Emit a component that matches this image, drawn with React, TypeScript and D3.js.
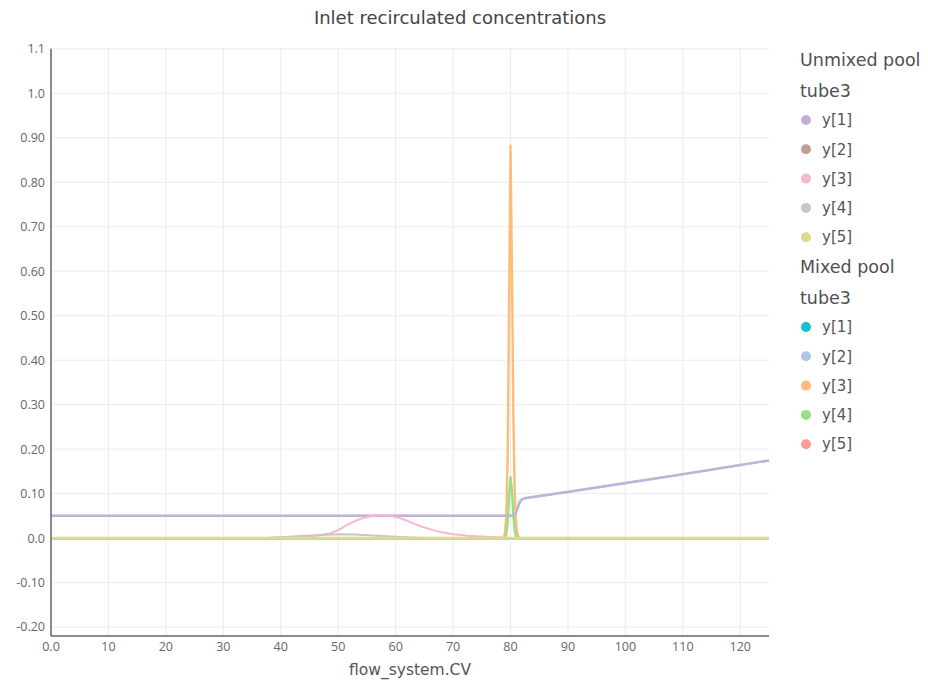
import React from 'react';
import * as d3 from 'd3';

// chart values
const xTicks = [0, 10, 20, 30, 40, 50, 60, 70, 80, 90, 100, 110, 120];
const xTickLabels = ['0.0', '10', '20', '30', '40', '50', '60', '70', '80', '90', '100', '110', '120'];
const yTicks = [1.1, 1.0, 0.9, 0.8, 0.7, 0.6, 0.5, 0.4, 0.3, 0.2, 0.1, 0.0, -0.1, -0.2];
const yTickLabels = ['1.1', '1.0', '0.90', '0.80', '0.70', '0.60', '0.50', '0.40', '0.30', '0.20', '0.10', '0.0', '-0.10', '-0.20'];

const seriesNames = ['y[1]', 'y[2]', 'y[3]', 'y[4]', 'y[5]'];
const unmixedColors = ['#c5b0d5', '#c49c94', '#f7b6d2', '#c7c7c7', '#dbdb8d'];
const mixedColors = ['#17becf', '#aec7e8', '#ffbb78', '#98df8a', '#ff9896'];

type Pt = [number, number];

const zeroLine: Pt[] = [[0, 0], [125, 0]];

const rampLine: Pt[] = [
  [0, 0.0502], [80.5, 0.0502], [80.8, 0.053], [81.1, 0.062], [81.4, 0.074], [81.7, 0.083],
  [82.0, 0.087], [82.4, 0.0895], [85, 0.0945], [90, 0.104], [100, 0.1237], [110, 0.1437],
  [120, 0.1642], [125, 0.1745],
];

const pinkBump: Pt[] = [
  [0, 0], [36, 0], [40, 0.0006], [44, 0.003], [46.5, 0.006], [48.6, 0.0105], [50, 0.018],
  [51.5, 0.029], [53, 0.039], [54.5, 0.046], [56, 0.0505], [57.5, 0.052], [59, 0.0505],
  [60.5, 0.046], [62, 0.039], [63.5, 0.031], [65, 0.024], [66.5, 0.018], [68, 0.013],
  [70, 0.0085], [72.5, 0.0055], [75, 0.0035], [77.5, 0.0018], [79, 0.0008], [80, 0.0003],
  [82, 0], [125, 0],
];

const grayBump: Pt[] = [
  [0, 0], [34, 0], [38, 0.001], [42, 0.0035], [46, 0.0065], [50, 0.0085], [53, 0.008],
  [56, 0.006], [60, 0.003], [64, 0.001], [68, 0], [125, 0],
];

const orangeSpike: Pt[] = [
  [0, 0], [78.5, 0], [78.75, 0.001], [79, 0.008], [79.25, 0.045], [79.5, 0.18], [79.75, 0.52],
  [80, 0.882], [80.25, 0.6], [80.5, 0.27], [80.75, 0.09], [81, 0.025], [81.25, 0.006],
  [81.5, 0.001], [81.75, 0], [125, 0],
];

const greenSpike: Pt[] = [
  [0, 0], [79, 0], [79.25, 0.008], [79.5, 0.035], [79.75, 0.095], [80, 0.137], [80.25, 0.105],
  [80.5, 0.05], [80.75, 0.016], [81, 0.004], [81.25, 0], [125, 0],
];

const unmixedData: Pt[][] = [rampLine, zeroLine, pinkBump, grayBump, zeroLine];
const mixedData: Pt[][] = [zeroLine, rampLine, orangeSpike, greenSpike, zeroLine];

const App = () => {
  const Width = 928;
  const Height = 684;
  const margin = { top: 48.8, right: 159, bottom: 48, left: 51 };
  const chartWidth = Width - margin.left - margin.right;
  const chartHeight = Height - margin.top - margin.bottom;

  const xScale = d3.scaleLinear().domain([0, 125]).range([0, chartWidth]);
  const yScale = d3.scaleLinear().domain([-0.22, 1.1]).range([chartHeight, 0]);

  const line = d3.line<Pt>().x((d) => xScale(d[0])).y((d) => yScale(d[1]));

  const font = "'DejaVu Sans', sans-serif";
  const tickFont = "'Open Sans', sans-serif";

  // mixed first, unmixed on top (olive zero line ends up visible)
  const lines = [
    ...mixedData.map((d, i) => ({ d, color: mixedColors[i], w: i === 1 ? 2.6 : 2.4 })),
    ...unmixedData.map((d, i) => ({ d, color: unmixedColors[i], w: i === 4 ? 2.6 : 2 })),
  ];

  const groups = [
    { title: 'Unmixed pool', colors: unmixedColors },
    { title: 'Mixed pool', colors: mixedColors },
  ];

  return (
    <svg width={Width} height={Height} style={{ position: 'absolute', left: 0, top: 0, background: '#fff' }}>
      <text x={460} y={24} textAnchor="middle" style={{ fontFamily: font, fontSize: '18px', fill: '#444' }}>
        Inlet recirculated concentrations
      </text>
      <g transform={`translate(${margin.left}, ${margin.top})`}>
        {xTicks.map((t) => (
          <line key={'gx' + t} x1={xScale(t)} x2={xScale(t)} y1={0} y2={chartHeight} stroke="#ececec" strokeWidth={1} />
        ))}
        {yTicks.map((t) => (
          <line key={'gy' + t} x1={0} x2={chartWidth} y1={yScale(t)} y2={yScale(t)} stroke="#ececec" strokeWidth={1} />
        ))}
        {lines.map((l, i) => (
          <path key={i} d={line(l.d) || ''} fill="none" stroke={l.color} strokeWidth={l.w} strokeLinejoin="round" />
        ))}
        <line x1={0} x2={0} y1={0} y2={chartHeight} stroke="#666" strokeWidth={1.5} />
        <line x1={0} x2={chartWidth} y1={chartHeight} y2={chartHeight} stroke="#666" strokeWidth={1.5} />
        {yTicks.map((t, i) => (
          <text key={'ty' + t} x={-6} y={yScale(t)} dy="0.35em" textAnchor="end" style={{ fontFamily: tickFont, fontSize: '12.5px', fill: '#666' }}>
            {yTickLabels[i]}
          </text>
        ))}
        {xTicks.map((t, i) => (
          <text key={'tx' + t} x={xScale(t)} y={chartHeight + 15} textAnchor="middle" style={{ fontFamily: tickFont, fontSize: '12.5px', fill: '#666' }}>
            {xTickLabels[i]}
          </text>
        ))}
        <text x={chartWidth / 2} y={chartHeight + 39} textAnchor="middle" style={{ fontFamily: font, fontSize: '15.5px', fill: '#555' }}>
          flow_system.CV
        </text>
      </g>
      <g transform="translate(800, 0)">
        {groups.map((g, gi) => (
          <g key={g.title} transform={`translate(0, ${gi * 207})`}>
            <text x={0} y={66} style={{ fontFamily: font, fontSize: '17.5px', fill: '#505050' }}>{g.title}</text>
            <text x={0} y={97} style={{ fontFamily: font, fontSize: '17.5px', fill: '#505050' }}>tube3</text>
            {seriesNames.map((s, i) => (
              <g key={s} transform={`translate(0, ${120 + i * 29.3})`}>
                <circle cx={6} cy={0} r={5} fill={g.colors[i]} />
                <text x={22} y={0} dy="0.35em" style={{ fontFamily: font, fontSize: '15px', fill: '#555' }}>{s}</text>
              </g>
            ))}
          </g>
        ))}
      </g>
    </svg>
  );
};

export default App;
